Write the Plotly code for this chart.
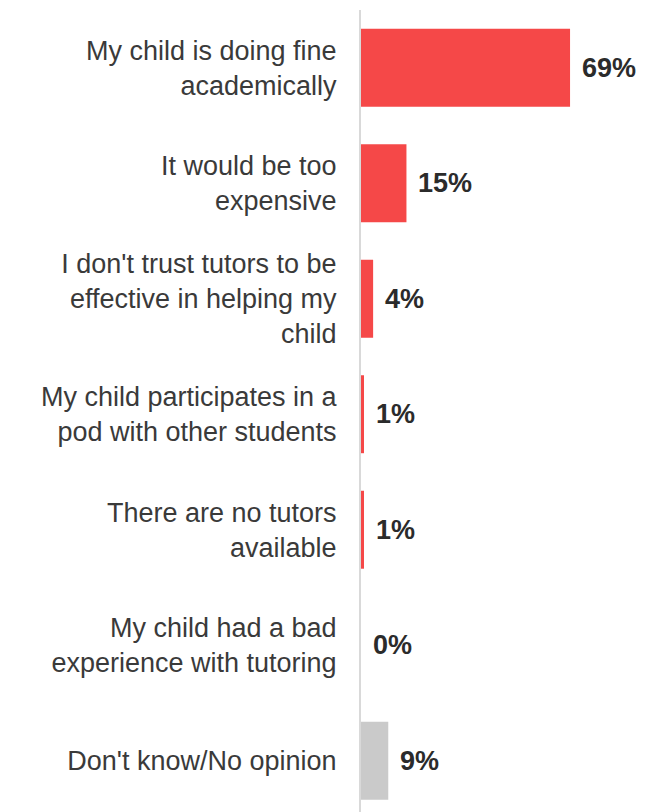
import plotly.graph_objects as go

# Reasons for not using a tutor
categories = [
    "My child is doing fine<br>academically",
    "It would be too<br>expensive",
    "I don't trust tutors to be<br>effective in helping my<br>child",
    "My child participates in a<br>pod with other students",
    "There are no tutors<br>available",
    "My child had a bad<br>experience with tutoring",
    "Don't know/No opinion",
]
values = [69, 15, 4, 1, 1, 0, 9]
value_labels = ["69%", "15%", "4%", "1%", "1%", "0%", "9%"]

RED = "#F54848"
GREY = "#CACACA"
bar_colors = [RED] * 6 + [GREY]

fig = go.Figure()
fig.add_trace(go.Bar(
    x=values,
    y=list(range(len(categories))),
    orientation="h",
    marker=dict(color=bar_colors, line=dict(width=0)),
    width=0.675,
    hoverinfo="skip",
))

# value labels to the right of each bar
for i, (v, t) in enumerate(zip(values, value_labels)):
    fig.add_annotation(
        x=v, y=i, text=f"<b>{t}</b>", showarrow=False,
        xanchor="left", yanchor="middle", xshift=10,
        font=dict(family="Liberation Sans, Arial", size=27, color="#2b2b2b"),
    )

fig.update_layout(
    width=667, height=812,
    margin=dict(l=361, r=0, t=10, b=0),
    paper_bgcolor="white", plot_bgcolor="white",
    showlegend=False,
    xaxis=dict(range=[0, 101], visible=False, fixedrange=True),
    yaxis=dict(
        range=[6.444, -0.5],
        tickmode="array",
        tickvals=list(range(len(categories))),
        ticktext=categories,
        showgrid=False, zeroline=False,
        showline=True, linecolor="#D9D9D9", linewidth=2,
        ticks="", ticklabelstandoff=17,
        tickfont=dict(family="Liberation Sans, Arial", size=27, color="#3a3a3a"),
    ),
)

fig.write_html("out.html")
